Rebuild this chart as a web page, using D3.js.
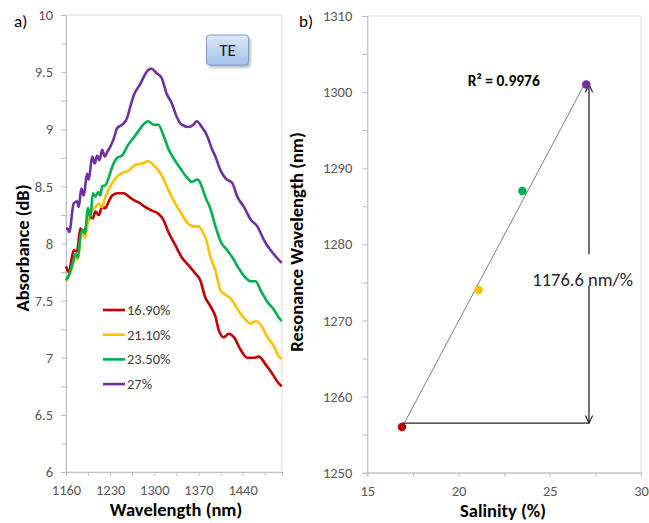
<!DOCTYPE html>
<html><head><meta charset="utf-8">
<script src="https://cdn.jsdelivr.net/npm/d3@7"></script>
<style>
body{margin:0;background:#fff}
svg{display:block}
text{font-family:Carlito,Lato,"Open Sans",sans-serif}
</style>
</head><body>
<svg id="c" width="649" height="523"></svg>
<script>
// ---------- Panel a data ----------
const wlTickLabels = [1160, 1230, 1300, 1370, 1440];
const absTickLabels = [6, 6.5, 7, 7.5, 8, 8.5, 9, 9.5, 10];
const seriesNames = ["16.90%", "21.10%", "23.50%", "27%"];
const seriesColors = ["#c00000", "#ffc000", "#00b050", "#7030a0"];

const abs169 = [[1160,7.80],[1164.3,7.75],[1172.2,7.94],[1177.5,7.93],[1182.7,8.13],[1188.2,8.09],[1193.4,8.18],[1198.7,8.23],[1202.5,8.22],[1206.6,8.28],[1212.0,8.25],[1217.3,8.32],[1222.5,8.31],[1227.9,8.37],[1233.2,8.42],[1241.1,8.44],[1251.8,8.44],[1259.7,8.41],[1267.7,8.38],[1278.2,8.35],[1285.2,8.32],[1295.7,8.29],[1306.4,8.26],[1314.3,8.21],[1322.3,8.10],[1332.9,7.99],[1343.4,7.88],[1354.1,7.81],[1364.7,7.74],[1372.7,7.68],[1380.7,7.53],[1389.1,7.45],[1397.0,7.36],[1402.3,7.24],[1410.2,7.18],[1418.2,7.21],[1426.2,7.18],[1436.8,7.07],[1447.5,7.00],[1458.0,7.00],[1465.9,7.01],[1476.6,6.94],[1487.2,6.86],[1495.2,6.79],[1502.0,6.75]];

const abs211 = [[1160,7.67],[1164.3,7.71],[1172.2,7.84],[1174.8,7.89],[1179.1,7.86],[1182.7,8.03],[1186.6,8.09],[1189.8,8.05],[1196.1,8.23],[1201.4,8.29],[1206.6,8.32],[1212.0,8.35],[1217.3,8.32],[1222.5,8.41],[1233.2,8.53],[1243.8,8.60],[1259.7,8.64],[1270.2,8.69],[1280.9,8.70],[1290.5,8.72],[1298.4,8.69],[1306.4,8.64],[1314.3,8.57],[1322.3,8.47],[1330.2,8.38],[1340.9,8.28],[1351.4,8.19],[1362.0,8.15],[1370.0,8.15],[1378.0,8.09],[1383.0,8.02],[1389.1,7.88],[1397.0,7.76],[1405.0,7.59],[1413.0,7.55],[1420.9,7.52],[1431.6,7.43],[1442.1,7.35],[1452.7,7.30],[1460.7,7.32],[1468.6,7.29],[1479.3,7.18],[1489.8,7.10],[1497.7,7.01],[1502.0,6.99]];

const abs235 = [[1160,7.68],[1164.3,7.72],[1172.2,7.86],[1174.8,7.91],[1179.1,7.88],[1182.7,8.06],[1186.6,8.12],[1189.8,8.09],[1195.0,8.31],[1198.7,8.23],[1202.5,8.44],[1206.6,8.41],[1210.9,8.45],[1214.6,8.42],[1217.3,8.50],[1222.5,8.51],[1227.9,8.58],[1233.2,8.67],[1241.1,8.75],[1249.1,8.77],[1257.0,8.85],[1267.7,8.93],[1278.2,9.01],[1282.5,9.04],[1290.5,9.07],[1298.4,9.04],[1306.4,9.04],[1314.3,8.95],[1322.3,8.83],[1330.2,8.75],[1340.9,8.66],[1351.4,8.58],[1359.3,8.54],[1368.9,8.56],[1375.2,8.50],[1380.7,8.41],[1388.6,8.31],[1397.0,8.15],[1405.0,8.02],[1415.7,7.94],[1423.6,7.88],[1434.2,7.78],[1444.8,7.70],[1452.7,7.67],[1460.7,7.67],[1468.6,7.59],[1479.3,7.49],[1489.8,7.42],[1497.7,7.35],[1502.0,7.32]];

const abs27 = [[1160,8.13],[1162.5,8.13],[1165.2,8.10],[1172.2,8.35],[1177.5,8.37],[1180.2,8.32],[1184.3,8.48],[1188.2,8.42],[1193.4,8.61],[1196.1,8.56],[1201.4,8.76],[1205.7,8.70],[1209.3,8.77],[1213.0,8.73],[1217.3,8.82],[1221.6,8.76],[1225.2,8.80],[1230.5,8.85],[1235.9,8.92],[1241.1,9.01],[1249.1,9.04],[1257.0,9.10],[1262.0,9.20],[1267.7,9.30],[1278.2,9.40],[1282.5,9.45],[1290.5,9.52],[1295.7,9.53],[1303.7,9.49],[1311.6,9.45],[1319.6,9.31],[1327.5,9.23],[1335.5,9.11],[1343.4,9.04],[1354.1,9.02],[1362.0,9.04],[1367.3,9.07],[1375.2,9.02],[1383.2,8.95],[1391.2,8.83],[1397.0,8.76],[1405.0,8.64],[1413.0,8.57],[1423.6,8.53],[1431.6,8.41],[1442.1,8.32],[1452.7,8.21],[1463.4,8.15],[1473.9,8.03],[1484.5,7.94],[1495.2,7.87],[1502.0,7.83]];

// ---------- Panel b data ----------
const salinity = [16.9, 21.1, 23.5, 27];
const resonance = [1256, 1274, 1287, 1301];
const salTickLabels = [15, 20, 25, 30];
const resTickLabels = [1250, 1260, 1270, 1280, 1290, 1300, 1310];
const r2Label = "R² = 0.9976";
const sensLabel = "1176.6 nm/%";
// annotation arrow (data units of panel b)
const arrowX = 27.15, arrowTop = 1301, arrowBottom = 1256.5, gapTop = 1278.7, gapBottom = 1274.6;

const svg = d3.select("#c");
const defs = svg.append("defs");

// ================= PANEL A =================
const xW = d3.scaleLinear().domain([1160, 1502.5]).range([66, 282]);
const yA = d3.scaleLinear().domain([6, 10]).range([472, 15]);

const gA = svg.append("g");
gA.append("rect").attr("x", 66).attr("y", 15).attr("width", 282 - 66).attr("height", 472 - 15)
  .attr("fill", "none").attr("stroke", "#d9d9d9").attr("stroke-width", 1);

const yAxisA = d3.axisLeft(yA).tickValues(d3.range(6, 10.001, 0.25)).tickSize(5).tickPadding(8)
  .tickFormat(d => absTickLabels.includes(d) ? String(d) : "");
gA.append("g").attr("transform", "translate(66,0)").call(yAxisA);

const xAxisA = d3.axisBottom(xW).tickValues(d3.range(1160, 1501, 35)).tickSize(4).tickPadding(9)
  .tickFormat(d => wlTickLabels.includes(d) ? String(d) : "");
gA.append("g").attr("transform", "translate(0,472)").call(xAxisA);

const lineA = d3.line().x(d => xW(d[0])).y(d => yA(d[1])).curve(d3.curveMonotoneX);
[abs169, abs211, abs235, abs27].forEach((s, i) => {
  gA.append("path").datum(s).attr("d", lineA).attr("fill", "none")
    .attr("stroke", seriesColors[i]).attr("stroke-width", 2.6).attr("stroke-linejoin", "round");
});

// legend
const leg = gA.append("g");
seriesNames.forEach((n, i) => {
  const yy = 310 + i * 24.7;
  leg.append("line").attr("x1", 103).attr("x2", 125).attr("y1", yy).attr("y2", yy)
    .attr("stroke", seriesColors[i]).attr("stroke-width", 2.6);
  leg.append("text").attr("x", 127).attr("y", yy).attr("dy", "0.35em")
    .attr("font-size", 14.5).attr("fill", "#404040").text(n);
});

// TE box
const grad = defs.append("linearGradient").attr("id", "teg").attr("x1", 0).attr("y1", 0).attr("x2", 0).attr("y2", 1);
grad.append("stop").attr("offset", "0%").attr("stop-color", "#dde8f7");
grad.append("stop").attr("offset", "100%").attr("stop-color", "#a3c1eb");
const blur = defs.append("filter").attr("id", "sh").attr("x", "-20%").attr("y", "-20%").attr("width", "150%").attr("height", "150%");
blur.append("feGaussianBlur").attr("stdDeviation", 1.5);
gA.append("rect").attr("x", 208.5).attr("y", 37.5).attr("width", 42).attr("height", 30).attr("rx", 3)
  .attr("fill", "rgba(0,0,0,0.3)").attr("filter", "url(#sh)");
gA.append("rect").attr("x", 206.5).attr("y", 35).attr("width", 42).attr("height", 30).attr("rx", 3)
  .attr("fill", "url(#teg)").attr("stroke", "#7d9fcf").attr("stroke-width", 1);
gA.append("text").attr("x", 227.5).attr("y", 50).attr("dy", "0.36em").attr("text-anchor", "middle")
  .attr("font-size", 17).attr("fill", "#1a1a1a").text("TE");

// titles
gA.append("text").attr("x", 176).attr("y", 516).attr("text-anchor", "middle")
  .attr("font-size", 18.5).attr("font-weight", "bold").attr("fill", "#000").text("Wavelength (nm)");
gA.append("text").attr("transform", "translate(23,248) rotate(-90)").attr("dy", "0.35em").attr("text-anchor", "middle")
  .attr("font-size", 18.5).attr("font-weight", "bold").attr("fill", "#000").text("Absorbance (dB)");
gA.append("text").attr("x", 14).attr("y", 27).attr("font-size", 17).attr("fill", "#000").text("a)");

// ================= PANEL B =================
const xS = d3.scaleLinear().domain([15, 30]).range([367.3, 641]);
const yR = d3.scaleLinear().domain([1250, 1310]).range([472.7, 16]);
const gB = svg.append("g");
gB.append("rect").attr("x", 367.3).attr("y", 16).attr("width", 641 - 367.3).attr("height", 472.7 - 16)
  .attr("fill", "none").attr("stroke", "#d9d9d9").attr("stroke-width", 1);

const yAxisB = d3.axisLeft(yR).tickValues(d3.range(1250, 1311, 5)).tickSize(5).tickPadding(10)
  .tickFormat(d => resTickLabels.includes(d) ? String(d) : "");
gB.append("g").attr("transform", "translate(367.3,0)").call(yAxisB);
const xAxisB = d3.axisBottom(xS).tickValues(d3.range(15, 30.01, 2.5)).tickSize(4).tickPadding(9)
  .tickFormat(d => salTickLabels.includes(d) ? String(d) : "");
gB.append("g").attr("transform", "translate(0,472.7)").call(xAxisB);

// style axes
svg.selectAll(".domain").attr("stroke", "#bfbfbf");
svg.selectAll(".tick line").attr("stroke", "#bfbfbf");
svg.selectAll(".tick text").attr("font-size", 14.5).attr("fill", "#595959")
  .style("font-family", "Carlito,Lato,sans-serif");

// trendline (least squares)
const mx = d3.mean(salinity), my = d3.mean(resonance);
const slope = d3.sum(salinity.map((x, i) => (x - mx) * (resonance[i] - my))) / d3.sum(salinity.map(x => (x - mx) ** 2));
const icpt = my - slope * mx;
const xMin = d3.min(salinity), xMax = d3.max(salinity);
gB.append("line").attr("x1", xS(xMin)).attr("y1", yR(icpt + slope * xMin))
  .attr("x2", xS(xMax)).attr("y2", yR(icpt + slope * xMax))
  .attr("stroke", "#808080").attr("stroke-width", 1);

// arrows
const mk = defs.append("marker").attr("id", "arr").attr("viewBox", "0 0 10 10").attr("refX", 9.5).attr("refY", 5)
  .attr("markerWidth", 9).attr("markerHeight", 9).attr("markerUnits", "userSpaceOnUse").attr("orient", "auto");
mk.append("path").attr("d", "M1,1 L9.5,5 L1,9").attr("fill", "none").attr("stroke", "#262626").attr("stroke-width", 1.3);
gB.append("line").attr("x1", xS(xMin)).attr("x2", xS(arrowX)).attr("y1", yR(arrowBottom)).attr("y2", yR(arrowBottom))
  .attr("stroke", "#262626").attr("stroke-width", 1.3);
gB.append("line").attr("x1", xS(arrowX)).attr("x2", xS(arrowX)).attr("y1", yR(gapTop)).attr("y2", yR(arrowTop))
  .attr("stroke", "#262626").attr("stroke-width", 1.3).attr("marker-end", "url(#arr)");
gB.append("line").attr("x1", xS(arrowX)).attr("x2", xS(arrowX)).attr("y1", yR(gapBottom)).attr("y2", yR(arrowBottom))
  .attr("stroke", "#262626").attr("stroke-width", 1.3).attr("marker-end", "url(#arr)");

// points
gB.selectAll("circle.pt").data(salinity).join("circle").attr("class", "pt")
  .attr("cx", d => xS(d)).attr("cy", (d, i) => yR(resonance[i])).attr("r", 4.3)
  .attr("fill", (d, i) => seriesColors[i]);

// labels
gB.append("text").attr("x", xS(22.48)).attr("y", yR(1300.8)).attr("text-anchor", "middle")
  .attr("font-size", 15.5).attr("font-weight", "bold").attr("fill", "#000").text(r2Label);
gB.append("text").attr("x", xS(26.8)).attr("y", yR(1274.5)).attr("text-anchor", "middle")
  .attr("font-size", 18.5).attr("fill", "#262626").text(sensLabel);

gB.append("text").attr("x", 503).attr("y", 517).attr("text-anchor", "middle")
  .attr("font-size", 18.5).attr("font-weight", "bold").attr("fill", "#000").text("Salinity (%)");
gB.append("text").attr("transform", "translate(297,242) rotate(-90)").attr("dy", "0.35em").attr("text-anchor", "middle")
  .attr("font-size", 18.5).attr("font-weight", "bold").attr("fill", "#000").text("Resonance Wavelength (nm)");
gB.append("text").attr("x", 299).attr("y", 27).attr("font-size", 17).attr("fill", "#000").text("b)");
</script>
</body></html>
